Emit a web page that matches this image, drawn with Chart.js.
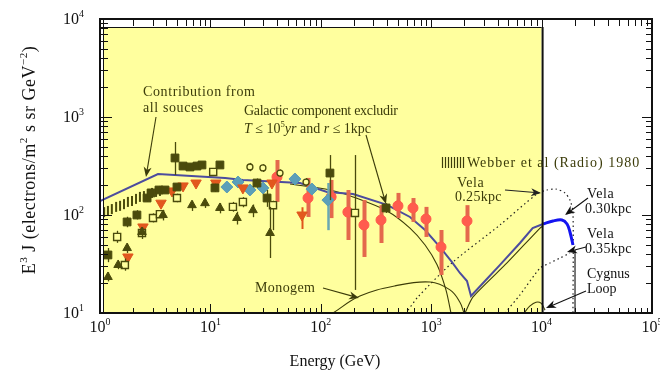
<!DOCTYPE html>
<html>
<head>
<meta charset="utf-8">
<script src="https://cdn.jsdelivr.net/npm/chart.js"></script>
<style>
  html, body { margin: 0; padding: 0; background: #fff; }
  #wrap { width: 660px; height: 371px; }
</style>
</head>
<body>
<div id="wrap"><canvas id="c" width="660" height="371"></canvas></div>
<script>
// Electron spectrum E^3 J vs energy, with model curves for nearby sources

// axis decades (exponents)
const xTickExp = [0, 1, 2, 3, 4, 5];
const yTickExp = [1, 2, 3, 4];

// model: contribution from all sources
const allSrcE = [1, 3.35, 13.6, 19.7, 64.8, 114, 196, 398, 642, 880, 1202, 1543, 1820, 2110, 2294, 3070, 4200, 6370, 8300, 10300];
const allSrcV = [139, 262, 239, 228, 212, 172, 164, 127, 95.5, 70.3, 47, 33.1, 25.6, 21.2, 14.9, 21.2, 31, 51.8, 73.6, 81];
// same model above 10 TeV (Vela 0.30 kpc)
const vela30E = [10300, 12680, 15300, 17000, 18070, 19240];
const vela30V = [81, 86.9, 88.9, 81, 67.1, 49.4];
// galactic component (T <= 1e5 yr, r <= 1 kpc excluded)
const galE = [52.6, 121, 196, 398, 642, 880, 1130, 1360, 1510];
const galV = [207, 180, 153, 110, 73.6, 49.4, 31, 17.2, 10];
// Monogem
const monoE = [129, 226, 470, 975, 1480, 1820, 1980];
const monoV = [10, 14.9, 18.9, 20.7, 17.2, 12.9, 10];
// nearby source rise under the total
const riseE = [2024, 2393, 4860, 9680, 10300];
const riseV = [10, 14.6, 32.4, 73.6, 77.3];
// Vela 0.25 kpc (dotted)
const vela25E = [617, 759, 1574, 4200, 9080, 11200, 13490, 16290, 18070, 19240, 19240];
const vela25V = [10.7, 14.6, 33.1, 79.1, 164, 180, 184, 168, 142, 107, 10];
// Vela 0.35 kpc (dotted)
const vela35E = [4660, 6370, 9680, 11910, 14690, 18070];
const vela35V = [10, 15.3, 28.8, 32.4, 36.4, 40.9];
const vela35CutE = [20080, 20080];
const vela35CutV = [44, 10];
// Cygnus Loop
const cygE = [6930, 7850, 8900, 9880, 10740];
const cygV = [10, 11.8, 12.9, 12.6, 10.7];

// Webber et al. (Radio) 1980
const webE = [1.09, 1.18, 1.28, 1.40, 1.52, 1.65, 1.79, 1.95, 2.12, 2.30, 2.50, 2.72, 2.96, 3.22, 3.49];
const webV = [107, 110, 115, 121, 124, 129, 136, 139, 146, 153, 156, 160, 168, 172, 176];

// filled squares
const sqE  = [1.18, 1.76, 2.16, 2.67, 2.90, 3.42, 3.88, 4.78, 4.98, 5.65, 6.53, 7.56, 8.39, 11.0, 12.2, 26.4, 32.6, 121, 390];
const sqV  = [39.1, 84.9, 100, 149, 168, 180, 180, 382, 193, 316, 309, 316, 324, 189, 324, 212, 149, 268, 118];
const sqLo = [33, 75, 90, 136, null, null, null, 256, null, null, null, null, null, 172, null, 190, 121, 142, 105];
const sqHi = [46, 96, 112, 163, null, null, null, 556, null, null, null, null, null, 208, null, 236, 180, 409, 132];
// open squares
const osqE  = [1.43, 1.68, 2.40, 3.02, 3.49, 4.98, 10.6, 16.0, 19.7, 36.9, 204];
const osqV  = [59.7, 30.9, 65.5, 93.2, 102, 149, 275, 121, 136, 126, 105];
const osqLo = [52, 27, 57, 84, null, 135, null, 108, 120, 70, 17.2];
const osqHi = [69, 36, 75, 104, null, 165, null, 136, 152, 140, 409];
// triangles
const triE  = [1.18, 1.46, 1.76, 2.40, 3.72, 6.81, 8.93, 12.2, 17.4, 24.3, 34.7];
const triV  = [23.3, 30.9, 46.0, 67.1, 100, 126, 132, 118, 93.2, 112, 65.5];
const triLo = [21, 28, 41, 60, 88, 110, 118, 104, 80, 95, 36.4];
const triHi = [26, 34, 51, 75, 113, 140, 146, 132, 108, 128, 121];
// open circles
const ocE  = [22.8, 29.9, 42.7, 73.5];
const ocV  = [309, 302, 268, 217];
const ocLo = [280, 275, 245, 198];
const ocHi = [340, 330, 292, 238];
// inverted triangles
const dtE  = [1.79, 2.45, 3.57, 4.49, 5.65, 7.41, 11.2, 19.7, 36.1, 67.6];
const dtV  = [37.3, 75.5, 132, 176, 198, 212, 212, 189, 212, 100];
const dtLo = [null, null, null, null, null, null, null, null, null, 72];
const dtHi = [null, null, null, null, null, null, null, null, null, 120];
// diamonds
const dmE  = [14.1, 17.8, 22.8, 29.9, 58.3, 83.2, 116];
const dmV  = [193, 217, 180, 189, 233, 184, 142];
const dmLo = [null, null, null, null, null, null, 70];
const dmHi = [null, null, null, null, null, null, 212];
// filled circles
const scE  = [40.1, 76.6, 124, 176, 246, 351, 500, 684, 897, 1227, 2110];
const scV  = [244, 149, 153, 107, 79.1, 88.9, 124, 118, 91.0, 47.1, 86.9];
const scLo = [136, 95.5, 93, 55.6, 37.3, 51.8, 93, 85, 59.7, 24.4, 53];
const scHi = [364, 239, 228, 180, 142, 126, 168, 149, 121, 70.3, 126];

const SERIF = "'Liberation Serif', 'DejaVu Serif', serif";
const OLIVE = '#4a4a0c';
const YELLOW = '#ffff9e';

const pts = (xs, ys) => xs.map((x, i) => ({ x: x, y: ys[i] }));

function curve(xs, ys, color, width, extra) {
  return Object.assign({
    data: pts(xs, ys), showLine: true, borderColor: color, borderWidth: width,
    pointRadius: 0, fill: false, order: 10
  }, extra || {});
}

function marks(xs, ys, lo, hi, style) {
  return Object.assign({
    data: pts(xs, ys), showLine: false, errLo: lo, errHi: hi, order: 1
  }, style);
}

const errorBars = {
  id: 'errorBars',
  beforeDatasetDraw(chart, args) {
    const ds = chart.data.datasets[args.index];
    if (!ds.errLo) return;
    const { ctx, chartArea: a, scales: { x, y } } = chart;
    ctx.save();
    ctx.beginPath();
    ctx.rect(a.left, a.top, a.right - a.left, a.bottom - a.top);
    ctx.clip();
    ctx.strokeStyle = ds.errColor || ds.borderColor;
    ctx.lineWidth = ds.errWidth || 1.3;
    ds.data.forEach((p, i) => {
      if (ds.errLo[i] == null) return;
      const px = Math.round(x.getPixelForValue(p.x)) + 0.5;
      ctx.beginPath();
      ctx.moveTo(px, y.getPixelForValue(ds.errLo[i]));
      ctx.lineTo(px, y.getPixelForValue(ds.errHi[i]));
      ctx.stroke();
    });
    ctx.restore();
  }
};

const background = {
  id: 'background',
  beforeDraw(chart) {
    const { ctx, chartArea: a, scales: { x } } = chart;
    ctx.save();
    ctx.fillStyle = '#fff';
    ctx.fillRect(0, 0, chart.width, chart.height);
    ctx.fillStyle = YELLOW;
    const xr = x.getPixelForValue(1e4);
    ctx.fillRect(a.left + 3, a.top + 8, xr - a.left - 3, a.bottom - a.top - 8);
    ctx.restore();
  }
};

// text with optional superscript / italic runs
function rich(ctx, parts, x, y, size, align, color, spacing) {
  const fontFor = p => (p.it ? 'italic ' : '') + (p.sup ? size * 0.62 : size) + 'px ' + SERIF;
  ctx.letterSpacing = (spacing || 0) + 'px';
  let w = 0;
  parts.forEach(p => { ctx.font = fontFor(p); w += ctx.measureText(p.t).width; });
  let cx = align === 'center' ? x - w / 2 : align === 'right' ? x - w : x;
  ctx.fillStyle = color;
  ctx.textAlign = 'left';
  ctx.textBaseline = 'alphabetic';
  parts.forEach(p => {
    ctx.font = fontFor(p);
    ctx.fillText(p.t, cx, p.sup ? y - size * 0.42 : y);
    cx += ctx.measureText(p.t).width;
  });
  ctx.letterSpacing = '0px';
}

function arrow(ctx, x1, y1, x2, y2, color) {
  const ang = Math.atan2(y2 - y1, x2 - x1);
  const L = 10, W = 4;
  ctx.strokeStyle = color;
  ctx.fillStyle = color;
  ctx.lineWidth = 1.1;
  ctx.beginPath();
  ctx.moveTo(x1, y1);
  ctx.lineTo(x2 - Math.cos(ang) * L * 0.6, y2 - Math.sin(ang) * L * 0.6);
  ctx.stroke();
  ctx.beginPath();
  ctx.moveTo(x2, y2);
  ctx.lineTo(x2 - Math.cos(ang) * L - Math.sin(ang) * W, y2 - Math.sin(ang) * L + Math.cos(ang) * W);
  ctx.lineTo(x2 - Math.cos(ang) * L * 0.7, y2 - Math.sin(ang) * L * 0.7);
  ctx.lineTo(x2 - Math.cos(ang) * L + Math.sin(ang) * W, y2 - Math.sin(ang) * L - Math.cos(ang) * W);
  ctx.closePath();
  ctx.fill();
}

function decadeTicks(lo, hi) {
  const out = [];
  for (let d = lo; d < hi; d++) {
    for (let m = 1; m < 10; m++) out.push({ v: m * Math.pow(10, d), major: m === 1 });
  }
  out.push({ v: Math.pow(10, hi), major: true });
  return out;
}

const frame = {
  id: 'frame',
  afterDraw(chart) {
    const { ctx, chartArea: a, scales: { x, y } } = chart;
    const xr = x.getPixelForValue(1e4);
    ctx.save();
    ctx.strokeStyle = '#111';

    // inward ticks on all four sides
    ctx.lineWidth = 1;
    decadeTicks(0, 5).forEach(t => {
      const px = Math.round(x.getPixelForValue(t.v)) + 0.5;
      const len = t.major ? 9 : 5;
      ctx.beginPath();
      ctx.moveTo(px, a.bottom); ctx.lineTo(px, a.bottom - len);
      ctx.moveTo(px, a.top); ctx.lineTo(px, a.top + (t.major ? 9 : 7));
      ctx.stroke();
    });
    decadeTicks(1, 4).forEach(t => {
      const py = Math.round(y.getPixelForValue(t.v)) + 0.5;
      const len = t.major ? 12 : 8;
      ctx.beginPath();
      ctx.moveTo(a.left, py); ctx.lineTo(a.left + len, py);
      ctx.moveTo(a.right, py); ctx.lineTo(a.right - (t.major ? 10 : 6), py);
      ctx.stroke();
    });

    // inner lines around the shaded region
    ctx.lineWidth = 1;
    ctx.beginPath();
    ctx.moveTo(a.left, a.top + 8.5); ctx.lineTo(xr, a.top + 8.5);
    ctx.moveTo(a.left + 3.5, a.top); ctx.lineTo(a.left + 3.5, a.bottom);
    ctx.stroke();
    ctx.lineWidth = 2;
    ctx.beginPath();
    ctx.moveTo(xr + 1, a.top + 8); ctx.lineTo(xr + 1, a.bottom);
    ctx.stroke();

    // outer frame
    ctx.lineWidth = 2;
    ctx.strokeRect(a.left, a.top, a.right - a.left, a.bottom - a.top);

    // tick labels
    xTickExp.forEach(e => {
      rich(ctx, [{ t: '10' }, { t: String(e), sup: true }], x.getPixelForValue(Math.pow(10, e)), a.bottom + 19, 16, 'center', '#111');
    });
    yTickExp.forEach(e => {
      rich(ctx, [{ t: '10' }, { t: String(e), sup: true }], a.left - 16, y.getPixelForValue(Math.pow(10, e)) + 5, 16, 'right', '#111');
    });

    // axis titles
    rich(ctx, [{ t: 'Energy (GeV)' }], 335, 366, 16, 'center', '#111');
    ctx.save();
    ctx.translate(35, 160);
    ctx.rotate(-Math.PI / 2);
    rich(ctx, [{ t: 'E' }, { t: '3', sup: true }, { t: ' J (electrons/m' }, { t: '2', sup: true },
      { t: ' s sr GeV' }, { t: '\u22122', sup: true }, { t: ')' }], 0, 0, 18, 'center', '#111', 0.5);
    ctx.restore();

    // annotations
    const ink = '#3c3c0a';
    rich(ctx, [{ t: 'Contribution from' }], 143, 96, 14, 'left', ink, 0.6);
    rich(ctx, [{ t: 'all souces' }], 143, 112, 14, 'left', ink, 0.6);
    arrow(ctx, 156, 117, 146, 177, ink);

    rich(ctx, [{ t: 'Galactic component excludir' }], 244, 115, 14, 'left', ink, -0.3);
    rich(ctx, [{ t: 'T', it: true }, { t: ' \u2264 10' }, { t: '5', sup: true }, { t: 'yr', it: true },
      { t: ' and ' }, { t: 'r', it: true }, { t: ' \u2264 1kpc' }], 244, 133, 14, 'left', ink);
    arrow(ctx, 366, 135, 386, 204, ink);

    // Webber legend sample
    ctx.strokeStyle = ink;
    ctx.lineWidth = 1.2;
    for (let i = 0; i < 8; i++) {
      const hx = 442 + i * 3 + 0.5;
      ctx.beginPath(); ctx.moveTo(hx, 157); ctx.lineTo(hx, 168); ctx.stroke();
    }
    rich(ctx, [{ t: 'Webber et al (Radio) 1980' }], 467, 167, 14, 'left', ink, 1);

    rich(ctx, [{ t: 'Vela' }], 457, 187, 14, 'left', ink, 0.6);
    rich(ctx, [{ t: '0.25kpc' }], 455, 201, 14, 'left', ink, 0.3);
    arrow(ctx, 505, 190, 541, 193, '#222');

    rich(ctx, [{ t: 'Vela' }], 587, 198, 14, 'left', '#111', 0.6);
    rich(ctx, [{ t: '0.30kpc' }], 585, 213, 14, 'left', '#111', 0.3);
    arrow(ctx, 588, 198, 565, 215, '#111');

    rich(ctx, [{ t: 'Vela' }], 587, 238, 14, 'left', '#111', 0.6);
    rich(ctx, [{ t: '0.35kpc' }], 585, 253, 14, 'left', '#111', 0.3);
    arrow(ctx, 586, 247, 567, 252, '#111');

    rich(ctx, [{ t: 'Cygnus' }], 587, 278, 14, 'left', '#111');
    rich(ctx, [{ t: 'Loop' }], 587, 293, 14, 'left', '#111');
    arrow(ctx, 586, 291, 546, 308, '#111');

    rich(ctx, [{ t: 'Monogem' }], 255, 292, 14, 'left', ink, 0.4);
    arrow(ctx, 323, 288, 359, 298, ink);

    ctx.restore();
  }
};

const datasets = [
  // model curves
  curve(allSrcE, allSrcV, '#4c4c9e', 2),
  curve(vela30E, vela30V, '#1414f0', 3, { tension: 0.35 }),
  curve(galE, galV, '#3c3c08', 1.1, { tension: 0.3 }),
  curve(monoE, monoV, '#3c3c08', 1.1, { tension: 0.4 }),
  curve(riseE, riseV, '#3c3c08', 1.1, { tension: 0.2 }),
  curve(vela25E, vela25V, '#222', 1.2, { borderDash: [1.5, 3], tension: 0.25 }),
  curve(vela35E, vela35V, '#222', 1.2, { borderDash: [1.5, 3], tension: 0.2 }),
  curve(vela35CutE, vela35CutV, '#222', 1.2),
  curve(cygE, cygV, '#3c3c08', 1.1, { tension: 0.4 }),

  // radio band
  marks(webE, webV, null, null, {
    pointStyle: 'line', pointRotation: 90, pointRadius: 5, borderWidth: 2,
    borderColor: OLIVE, backgroundColor: OLIVE, order: 3
  }),
  // measurements
  marks(triE, triV, triLo, triHi, {
    pointStyle: 'triangle', pointRadius: 5, borderWidth: 1,
    borderColor: OLIVE, backgroundColor: OLIVE, errColor: OLIVE
  }),
  marks(osqE, osqV, osqLo, osqHi, {
    pointStyle: 'rect', pointRadius: 5, borderWidth: 1.4,
    borderColor: OLIVE, backgroundColor: YELLOW, errColor: OLIVE
  }),
  marks(sqE, sqV, sqLo, sqHi, {
    pointStyle: 'rect', pointRadius: 5.5, borderWidth: 1,
    borderColor: OLIVE, backgroundColor: OLIVE, errColor: OLIVE
  }),
  marks(ocE, ocV, ocLo, ocHi, {
    pointStyle: 'circle', pointRadius: 3, borderWidth: 1.3,
    borderColor: OLIVE, backgroundColor: YELLOW, errColor: OLIVE
  }),
  marks(dtE, dtV, dtLo, dtHi, {
    pointStyle: 'triangle', pointRotation: 180, pointRadius: 6, borderWidth: 1,
    borderColor: '#e0561c', backgroundColor: '#e2581e', errColor: '#e0561c', errWidth: 2
  }),
  marks(dmE, dmV, dmLo, dmHi, {
    pointStyle: 'rectRot', pointRadius: 6, borderWidth: 1,
    borderColor: '#5a9db5', backgroundColor: '#5c9fb8', errColor: '#6aa8b2', errWidth: 2.5
  }),
  marks(scE, scV, scLo, scHi, {
    pointStyle: 'circle', pointRadius: 5, borderWidth: 1,
    borderColor: '#ff5a4a', backgroundColor: '#ff5c4e', errColor: '#e4684c', errWidth: 4
  })
];

new Chart(document.getElementById('c'), {
  type: 'scatter',
  data: { datasets: datasets },
  options: {
    responsive: false,
    animation: false,
    devicePixelRatio: 1,
    layout: { padding: { left: 100, right: 8, top: 19, bottom: 58 } },
    plugins: { legend: { display: false }, tooltip: { enabled: false } },
    scales: {
      x: { type: 'logarithmic', min: 1, max: 1e5, display: false },
      y: { type: 'logarithmic', min: 10, max: 1e4, display: false }
    }
  },
  plugins: [background, errorBars, frame]
});
</script>
</body>
</html>
